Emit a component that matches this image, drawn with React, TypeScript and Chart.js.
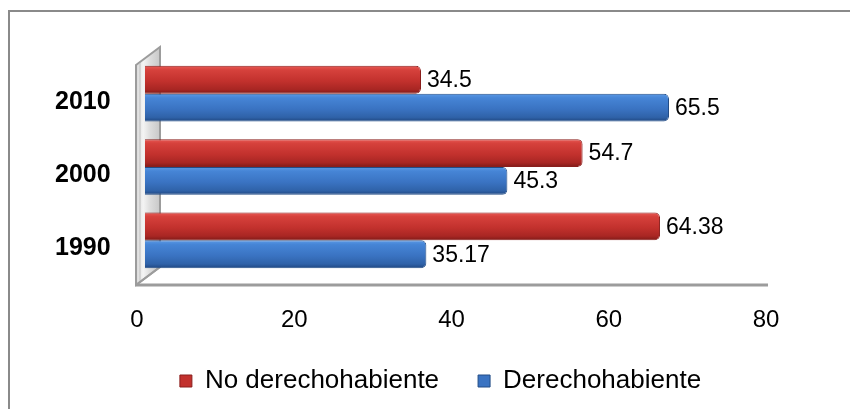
import { useEffect, useRef } from 'react';
import { Chart, registerables } from 'chart.js';

Chart.register(...registerables);

const categories = ['2010', '2000', '1990'];
const noDerechohabiente = [34.5, 54.7, 64.38];
const derechohabiente = [65.5, 45.3, 35.17];
const seriesNames = ['No derechohabiente', 'Derechohabiente'];
const xTickValues = [0, 20, 40, 60, 80];

const FONT = "'Liberation Sans', Arial, sans-serif";
const CAT_PCT = 0.76;

const redStops: [number, string][] = [
  [0, '#e85a55'],
  [0.15, '#d6413c'],
  [0.55, '#c2312d'],
  [0.85, '#a82623'],
  [1, '#7e1a18'],
];
const blueStops: [number, string][] = [
  [0, '#5c9ae6'],
  [0.15, '#4685d6'],
  [0.55, '#3a73c2'],
  [0.85, '#2f62a8'],
  [1, '#1f4680'],
];

function barFill(stops: [number, string][]) {
  return (ctx: any) => {
    const chart = ctx.chart;
    const y = chart.scales && chart.scales.y;
    if (!chart.chartArea || !y || ctx.type !== 'data') return stops[2][1];
    const center = y.getPixelForValue(ctx.dataIndex);
    const catH = (y.bottom - y.top) / categories.length;
    const half = (catH * CAT_PCT) / 2;
    const top = ctx.datasetIndex === 0 ? center - half : center;
    const g = chart.ctx.createLinearGradient(0, top, 0, top + half);
    stops.forEach(([o, c]) => g.addColorStop(o, c));
    return g;
  };
}

const framePlugin = {
  id: 'frame',
  beforeDraw(chart: any) {
    const { ctx, width, height } = chart;
    ctx.save();
    ctx.fillStyle = '#ffffff';
    ctx.fillRect(0, 0, width, height);
    ctx.strokeStyle = '#8a8a8a';
    ctx.lineWidth = 2;
    ctx.beginPath();
    ctx.moveTo(9, height + 2);
    ctx.lineTo(9, 11);
    ctx.lineTo(width + 2, 11);
    ctx.stroke();
    ctx.restore();
  },
};

const wallPlugin = {
  id: 'wall3d',
  beforeDatasetsDraw(chart: any) {
    const { ctx, chartArea, scales } = chart;
    const x2 = scales.x2;
    const fx = x2.getPixelForValue(0) - 1;
    const dx = 24;
    const dy = 18;
    const topF = chartArea.top + 8;
    const botF = chartArea.bottom + 8;
    const endX = x2.getPixelForValue(80) + 2;
    ctx.save();
    ctx.fillStyle = '#ffffff';
    ctx.beginPath();
    ctx.moveTo(fx, botF);
    ctx.lineTo(fx + dx, botF - dy);
    ctx.lineTo(endX + dx, botF - dy);
    ctx.lineTo(endX, botF);
    ctx.closePath();
    ctx.fill();
    const g = ctx.createLinearGradient(fx, 0, fx + dx, 0);
    g.addColorStop(0, '#d8d8d8');
    g.addColorStop(0.3, '#f4f4f4');
    g.addColorStop(0.6, '#dcdcdc');
    g.addColorStop(1, '#c8c8c8');
    ctx.fillStyle = g;
    ctx.beginPath();
    ctx.moveTo(fx, topF);
    ctx.lineTo(fx + dx, topF - dy);
    ctx.lineTo(fx + dx, botF - dy);
    ctx.lineTo(fx, botF);
    ctx.closePath();
    ctx.fill();
    ctx.strokeStyle = '#9c9c9c';
    ctx.lineWidth = 2;
    ctx.stroke();
    ctx.strokeStyle = '#bdbdbd';
    ctx.lineWidth = 1;
    ctx.beginPath();
    ctx.moveTo(fx + 4, topF - 2);
    ctx.lineTo(fx + 4, botF - 4);
    ctx.stroke();
    ctx.strokeStyle = '#9c9c9c';
    ctx.lineWidth = 3;
    ctx.beginPath();
    ctx.moveTo(fx, botF);
    ctx.lineTo(endX, botF);
    ctx.stroke();
    ctx.lineWidth = 2;
    ctx.beginPath();
    ctx.moveTo(fx, botF);
    ctx.lineTo(fx + dx, botF - dy);
    ctx.stroke();
    ctx.restore();
  },
};

const valueLabelPlugin = {
  id: 'valueLabels',
  afterDatasetsDraw(chart: any) {
    const { ctx } = chart;
    ctx.save();
    ctx.font = `23px ${FONT}`;
    ctx.fillStyle = '#000000';
    ctx.textAlign = 'left';
    ctx.textBaseline = 'middle';
    chart.data.datasets.forEach((ds: any, di: number) => {
      const meta = chart.getDatasetMeta(di);
      meta.data.forEach((bar: any, i: number) => {
        ctx.fillText(String(ds.data[i]), bar.x + 6, bar.y + 1);
      });
    });
    ctx.restore();
  },
};

export default function App() {
  const canvasRef = useRef<HTMLCanvasElement | null>(null);

  useEffect(() => {
    if (!canvasRef.current) return;
    const chart = new Chart(canvasRef.current, {
      type: 'bar',
      data: {
        labels: categories,
        datasets: [
          {
            label: seriesNames[0],
            data: noDerechohabiente,
            backgroundColor: barFill(redStops),
            borderColor: '#8a1e1c',
            borderWidth: 1,
            borderRadius: 5,
            borderSkipped: 'start',
            barPercentage: 1,
            categoryPercentage: CAT_PCT,
            xAxisID: 'x',
            yAxisID: 'y',
          },
          {
            label: seriesNames[1],
            data: derechohabiente,
            backgroundColor: barFill(blueStops),
            borderColor: '#224c86',
            borderWidth: 1,
            borderRadius: 5,
            borderSkipped: 'start',
            barPercentage: 1,
            categoryPercentage: CAT_PCT,
            xAxisID: 'x',
            yAxisID: 'y',
          },
        ],
      },
      options: {
        indexAxis: 'y',
        responsive: false,
        animation: false,
        layout: { padding: { top: 57, left: 91, right: 60, bottom: 5 } },
        scales: {
          x: { type: 'linear', min: -1, max: 80.625, display: false },
          x2: {
            type: 'linear',
            position: 'bottom',
            min: 0,
            max: 83.05,
            afterBuildTicks: (s: any) => {
              s.ticks = xTickValues.map((v) => ({ value: v }));
            },
            afterFit: (s: any) => {
              s.height = 52;
            },
            grid: { display: false },
            border: { display: false },
            ticks: { padding: 21, color: '#000000', font: { family: FONT, size: 24 } },
          },
          y: {
            type: 'category',
            afterFit: (s: any) => {
              s.width = 46;
            },
            grid: { display: false },
            border: { display: false },
            ticks: {
              mirror: true,
              crossAlign: 'near',
              padding: -82,
              labelOffset: 8,
              color: '#000000',
              font: { family: FONT, size: 25, weight: 'bold' },
            },
          },
        } as any,
        plugins: {
          tooltip: { enabled: false },
          legend: {
            position: 'bottom',
            labels: {
              boxWidth: 12,
              boxHeight: 12,
              padding: 39,
              color: '#000000',
              font: { family: FONT, size: 26 },
              generateLabels: () => [
                { text: seriesNames[0], fillStyle: '#c2312d', strokeStyle: '#8a1e1c', lineWidth: 1, datasetIndex: 0, hidden: false },
                { text: seriesNames[1], fillStyle: '#3a73c2', strokeStyle: '#224c86', lineWidth: 1, datasetIndex: 1, hidden: false },
              ],
            },
          },
        },
      },
      plugins: [framePlugin, wallPlugin, valueLabelPlugin],
    });
    return () => chart.destroy();
  }, []);

  return (
    <div style={{ position: 'absolute', left: 0, top: 0, width: 850, height: 409 }}>
      <canvas ref={canvasRef} width={850} height={409} style={{ display: 'block' }} />
    </div>
  );
}
